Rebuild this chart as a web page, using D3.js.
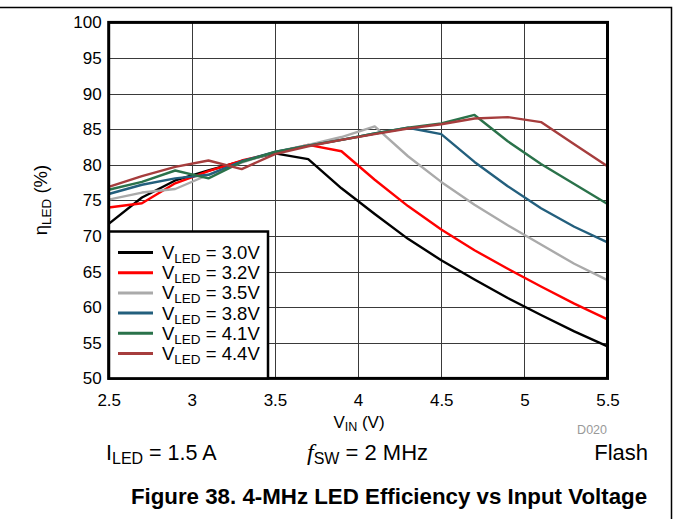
<!DOCTYPE html>
<html>
<head>
<meta charset="utf-8">
<script src="https://cdn.jsdelivr.net/npm/d3@7"></script>
<style>
  html, body { margin: 0; padding: 0; background: #fff; }
  svg { display: block; font-family: "Liberation Sans", Arial, sans-serif; }
</style>
</head>
<body>
<svg id="chart" width="673" height="519"></svg>
<script>
// Input voltage sweep (V)
const vin = [2.5, 2.7, 2.9, 3.1, 3.3, 3.5, 3.7, 3.9, 4.1, 4.3, 4.5, 4.7, 4.9, 5.1, 5.3, 5.5];

// LED efficiency (%) for each LED forward voltage
const effVled30 = [71.7, 75.4, 77.8, 79.2, 80.5, 81.6, 80.8, 76.7, 73.1, 69.6, 66.6, 63.9, 61.3, 58.9, 56.6, 54.5];
const effVled32 = [74.0, 74.6, 77.4, 79.1, 80.6, 81.7, 82.8, 81.9, 77.9, 74.2, 70.9, 68.0, 65.4, 62.9, 60.5, 58.3];
const effVled35 = [75.1, 76.1, 76.6, 78.6, 80.3, 81.8, 82.8, 83.9, 85.4, 81.2, 77.6, 74.4, 71.5, 68.8, 66.1, 63.8];
const effVled38 = [75.9, 77.2, 78.1, 78.6, 80.5, 81.8, 82.7, 83.5, 84.4, 85.2, 84.3, 80.4, 77.0, 73.9, 71.3, 69.1];
const effVled41 = [76.5, 77.6, 79.2, 78.1, 80.4, 81.8, 82.7, 83.5, 84.4, 85.2, 85.8, 87.0, 83.3, 80.1, 77.3, 74.5];
const effVled44 = [76.9, 78.4, 79.7, 80.6, 79.4, 81.5, 82.6, 83.5, 84.3, 85.1, 85.7, 86.5, 86.7, 86.0, 82.9, 79.8];

const seriesNames = ["3.0V", "3.2V", "3.5V", "3.8V", "4.1V", "4.4V"];
const seriesValues = [effVled30, effVled32, effVled35, effVled38, effVled41, effVled44];
const seriesColors = ["#000000", "#ff0000", "#aaaaaa", "#235f7d", "#2a724a", "#a63d3d"];

const xTicks = [2.5, 3, 3.5, 4, 4.5, 5, 5.5];
const xTickLabels = ["2.5", "3", "3.5", "4", "4.5", "5", "5.5"];
const yTicks = [50, 55, 60, 65, 70, 75, 80, 85, 90, 95, 100];

const svg = d3.select("#chart");

const x = d3.scaleLinear().domain([2.5, 5.5]).range([108.7, 607.5]);
const y = d3.scaleLinear().domain([50, 100]).range([378.4, 22.4]);

// Outer page frame (top and right edges)
svg.append("path")
  .attr("d", "M0,7.5 H671.5 V519")
  .attr("fill", "none").attr("stroke", "#000").attr("stroke-width", 1.5);

// Grid
const grid = svg.append("g");
grid.selectAll("line.v").data(xTicks.slice(1, -1)).join("line")
  .attr("x1", d => Math.round(x(d)) + 0.5).attr("x2", d => Math.round(x(d)) + 0.5)
  .attr("y1", y(100)).attr("y2", y(50))
  .attr("stroke", "#3a3a3a").attr("stroke-width", 1);
grid.selectAll("line.h").data(yTicks.slice(1, -1)).join("line")
  .attr("y1", d => Math.round(y(d)) + 0.5).attr("y2", d => Math.round(y(d)) + 0.5)
  .attr("x1", x(2.5)).attr("x2", x(5.5))
  .attr("stroke", "#3a3a3a").attr("stroke-width", 1);

// Axes (labels only, the frame is drawn separately)
const yAxis = d3.axisLeft(y).tickValues(yTicks).tickSize(0).tickPadding(7);
svg.append("g").attr("transform", `translate(${x(2.5)},0)`).call(yAxis)
  .call(g => g.select(".domain").remove())
  .call(g => g.selectAll("text").attr("font-size", 17).attr("fill", "#000")
    .attr("font-family", "'Liberation Sans', Arial, sans-serif"));

const xAxis = d3.axisBottom(x).tickValues(xTicks)
  .tickFormat((d, i) => xTickLabels[i]).tickSize(0).tickPadding(16);
svg.append("g").attr("transform", `translate(0,${y(50)})`).call(xAxis)
  .call(g => g.select(".domain").remove())
  .call(g => g.selectAll("text").attr("font-size", 17).attr("fill", "#000")
    .attr("font-family", "'Liberation Sans', Arial, sans-serif"));

// Curves
const line = d3.line().x((d, i) => x(vin[i])).y(d => y(d));
svg.append("g").selectAll("path").data(seriesValues).join("path")
  .attr("d", d => line(d))
  .attr("fill", "none")
  .attr("stroke", (d, i) => seriesColors[i])
  .attr("stroke-width", 2.4)
  .attr("stroke-linejoin", "round");

// Plot frame
svg.append("rect")
  .attr("x", x(2.5)).attr("y", y(100))
  .attr("width", x(5.5) - x(2.5)).attr("height", y(50) - y(100))
  .attr("fill", "none").attr("stroke", "#000").attr("stroke-width", 3);

// Legend
const legend = svg.append("g");
legend.append("rect")
  .attr("x", 109).attr("y", 231.5).attr("width", 159).attr("height", y(50) - 231.5)
  .attr("fill", "#fff").attr("stroke", "#000").attr("stroke-width", 2.5);
seriesNames.forEach((name, i) => {
  const cy = 252.5 + i * 20.2;
  legend.append("line")
    .attr("x1", 118).attr("x2", 153).attr("y1", cy).attr("y2", cy)
    .attr("stroke", seriesColors[i]).attr("stroke-width", 3);
  const t = legend.append("text").attr("x", 162).attr("y", cy + 6.5)
    .attr("font-size", 18.5).attr("fill", "#000");
  t.append("tspan").text("V");
  t.append("tspan").attr("font-size", 13.5).attr("dy", 4).text("LED");
  t.append("tspan").attr("dy", -4).text(" = " + name);
});

// Axis titles
const yTitle = svg.append("text")
  .attr("transform", "translate(47,200) rotate(-90)")
  .attr("text-anchor", "middle").attr("font-size", 18.5).attr("fill", "#000");
yTitle.append("tspan").text("η");
yTitle.append("tspan").attr("font-size", 13.5).attr("dy", 4).text("LED");
yTitle.append("tspan").attr("dy", -4).text(" (%)");

const xTitle = svg.append("text")
  .attr("x", 359).attr("y", 428)
  .attr("text-anchor", "middle").attr("font-size", 17).attr("fill", "#000");
xTitle.append("tspan").text("V");
xTitle.append("tspan").attr("font-size", 12.5).attr("dy", 3).text("IN");
xTitle.append("tspan").attr("dy", -3).text(" (V)");

svg.append("text").attr("x", 607).attr("y", 434).attr("text-anchor", "end")
  .attr("font-size", 12.5).attr("fill", "#999").text("D020");

// Operating conditions
const cond1 = svg.append("text").attr("x", 106).attr("y", 460)
  .attr("font-size", 21.5).attr("fill", "#000");
cond1.append("tspan").text("I");
cond1.append("tspan").attr("font-size", 16).attr("dy", 4).text("LED");
cond1.append("tspan").attr("dy", -4).text(" = 1.5 A");

const cond2 = svg.append("text").attr("x", 307).attr("y", 460)
  .attr("font-size", 22).attr("fill", "#000");
cond2.append("tspan").attr("font-style", "italic")
  .attr("font-family", "'Liberation Serif', 'Times New Roman', serif").attr("font-size", 24).text("f");
cond2.append("tspan").attr("font-size", 16).attr("dy", 4).text("SW");
cond2.append("tspan").attr("dy", -4).text(" = 2 MHz");

svg.append("text").attr("x", 648).attr("y", 460).attr("text-anchor", "end")
  .attr("font-size", 22).attr("fill", "#000").text("Flash");

// Figure caption
svg.append("text").attr("x", 389).attr("y", 504).attr("text-anchor", "middle")
  .attr("font-size", 22.3).attr("font-weight", "bold").attr("fill", "#000")
  .text("Figure 38. 4-MHz LED Efficiency vs Input Voltage");
</script>
</body>
</html>
